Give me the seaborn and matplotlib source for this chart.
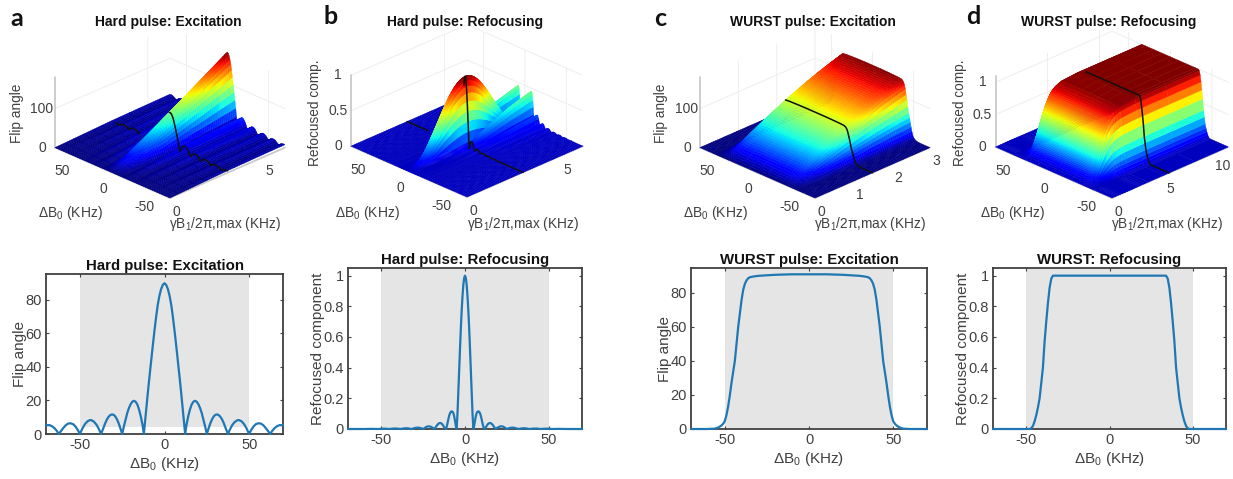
import numpy as np
import matplotlib
matplotlib.use("Agg")
import matplotlib.pyplot as plt
from mpl_toolkits.mplot3d import proj3d
import seaborn as sns

W, H = 1233, 479
sns.set_theme(style="white")
plt.rcParams.update({
    "font.family": ["Liberation Sans", "DejaVu Sans"],
    "mathtext.fontset": "custom", "mathtext.rm": "Liberation Sans",
    "mathtext.it": "Liberation Sans", "mathtext.bf": "Liberation Sans:bold",
    "mathtext.default": "regular",
    "axes3d.automargin": False,
})

# ---------- read-off line profiles: half profile (|dB0|, value), mirrored about 0
x_a = [0,1,2,3,4,5,6,7,8,9,10,11,12.2,13,14,15,16,17,18,19,20,21,22,23,24,25,26,27,28,29,30,31,32,33,34,35,36,37.5,
       38.5,40,41.5,43,44,45.5,47,48.5,50,51,52.5,54,55.5,57,58.5,60,61.5,62.5,63.5,65,66.5,68,70]
y_a = [90,89,86.5,82.5,77,69.5,61,52,42.5,33,23,12.5,0,5.5,10.5,14.5,17.5,19.2,19.8,19.3,17.8,15.5,12.5,8.5,4.5,0,
       3.2,6.2,8.6,10.4,11.4,11.7,11.3,10.3,8.7,6.5,3.8,0,2.4,5.3,7.2,8.2,8.3,7.6,5.9,3.3,0,2,4.4,5.9,6.4,6.2,5.1,3.3,1.3,0,1.7,3.5,4.7,5.3,5.2]
x_b = [0,.5,1,1.5,2,2.5,3,3.5,4,4.5,5,5.5,6,6.5,7,7.5,8,8.5,9,9.5,10,10.5,11,11.5,12.5,13.5,14.5,15.5,16.5,17.5,18.3,
       19.5,21,22.5,24,25,26.5,28,29.5,31,32,34,35.5,37,38.5,41,43,45,48,50,52,56,60,70]
y_b = [1,.985,.94,.865,.77,.655,.52,.38,.24,.1,0,.022,.055,.085,.105,.113,.115,.112,.102,.085,.062,.036,.013,0,
       .012,.03,.039,.038,.028,.012,0,.009,.017,.017,.008,0,.006,.009,.008,.003,0,.004,.005,.003,0,.003,.003,0,.002,.002,0,.001,0,0]
x_c = [0,10,20,30,33,35,36,37,38,39,40,41,42,43,44,45,46,47,48,49,50,51,52,54,56,60,70]
y_c = [91,91,90.7,90.1,89.7,89.3,88.7,87.5,85.5,82,76,68,60,50,40,33.5,27,19.5,13,8,4.5,3,2,.8,.2,0,0]
x_d = [0,10,20,30,34,35,36,37,38,39,40,41,42,43,44,45,46,47,48,70]
y_d = [1,1,1,1,1,.98,.92,.82,.7,.57,.4,.3,.2,.14,.09,.05,.02,.005,0,0]

# ---------- read-off dependence on the B1 amplitude
b1_a = [0,.1,.2,.3,.4,.5,.6,.7,.8,.9,1,1.1,1.2,1.3,1.4,1.5,1.6,1.7,1.8,1.9,2,2.1,2.2,2.3,2.4,2.5,2.6,2.7,2.8,2.9,3,
        3.1,3.2,3.3,3.4,3.5,3.6,3.7,3.8,3.9,4,4.1,4.2,4.3,4.4,4.5,4.6,4.7,4.8,4.9,5,5.1,5.2,5.3,5.4,5.5,5.6,5.7,5.8,5.9,6,6.1,6.2]
peak_a = [0,2.9,5.8,8.7,11.6,14.5,17.4,20.3,23.2,26.1,29,31.9,34.8,37.7,40.6,43.5,46.4,49.3,52.2,55.1,58,60.9,63.8,66.7,69.6,72.5,75.4,78.3,81.2,84.1,87,
          89.9,92.8,95.7,98.6,101.5,104.4,107.3,110.2,113.1,116,118.9,121.8,124.7,127.6,130.5,133.4,136.3,139.2,142.1,145,147.9,150.8,153.7,156.6,159.5,162.4,165.3,168.2,171.1,174,176.9,179.8]
b1_lobe_a = [0,.5,1,1.5,2,2.5,3,3.5,4,4.5,5,5.5,6,6.2]
lobe_a = [0,.17,.33,.5,.67,.83,1,1.08,1.15,1.23,1.3,1.37,1.44,1.45]

b1_b = [0,.05,.1,.15,.2,.25,.3,.35,.4,.45,.5,.55,.6,.65,.7,.75,.8,.85,.9,.95,1,1.05,1.1,1.15,1.2,1.25,1.3,1.35,1.4,1.45,1.5,
        1.55,1.6,1.65,1.7,1.75,1.8,1.85,1.9,1.95,2,2.05,2.1,2.15,2.2,2.25,2.3,2.35,2.4,2.45,2.5,2.55,2.6,2.65,2.7,2.75,2.8,2.85,2.9,2.95,3]
peak_b = [0,.001,.003,.006,.011,.017,.025,.033,.043,.055,.067,.081,.096,.111,.128,.146,.165,.185,.206,.228,.25,.273,.297,.321,.346,.371,.396,.422,.448,.474,.5,
          .526,.552,.578,.604,.629,.655,.679,.703,.727,.75,.772,.794,.815,.835,.854,.872,.889,.905,.919,.933,.946,.957,.967,.976,.983,.989,.994,.997,.999,1]
b1_lobe_b = [0,.1,.2,.3,.4,.5,.6,.7,.8,.9,1,1.1,1.2,1.3,1.4,1.5,1.6,1.7,1.8,1.9,2,2.1,2.2,2.3,2.4,2.5,2.6,2.7,2.8,2.9,3,
             3.1,3.2,3.3,3.4,3.5,3.6,3.7,3.8,3.9,4,4.1,4.2,4.3,4.4,4.5,4.6,4.7,4.8,4.9,5,5.1,5.2,5.3,5.4,5.5,5.6,5.7,5.8,5.9,6,6.1,6.2]
lobe_b = [0,0,0,.01,.01,.02,.02,.03,.03,.04,.04,.05,.06,.07,.09,.11,.13,.16,.19,.22,.25,.31,.37,.43,.5,.57,.64,.72,.81,.9,1,
          1.12,1.24,1.36,1.48,1.6,1.72,1.84,1.96,2.08,2.2,2.3,2.4,2.5,2.6,2.7,2.8,2.9,3,3.1,3.2,3.27,3.34,3.41,3.48,3.55,3.62,3.69,3.76,3.83,3.9,3.95,4]

b1_c = [0,.05,.1,.15,.2,.25,.3,.35,.4,.45,.5,.55,.6,.65,.7,.75,.8,.85,.9,.95,1,1.05,1.1,1.15,1.2,1.25,1.3,1.35,1.4,1.45,1.5,
        1.55,1.6,1.65,1.7,1.75,1.8,1.85,1.9,1.95,2,2.05,2.1,2.15,2.2,2.25,2.3,2.35,2.4,2.45,2.5,2.55,2.6,2.65,2.7,2.75,2.8,2.85,2.9,2.95,3]
peak_c = [0,3.4,6.8,10.1,13.4,16.7,19.9,23.1,26.3,29.4,32.5,35.6,38.7,41.7,44.7,47.6,50.5,53.4,56.3,59.1,61.9,64.6,67.3,70,72.7,75.3,77.9,80.5,83,85.5,88,
          90.4,92.8,95.2,97.5,99.8,102.1,104.3,106.5,108.7,110.8,113,115,117,119,121,123,125,127,128.7,130.5,132.2,134,135.7,137.4,139,140.7,142.3,143.8,145.4,147]

peak_d = [0,.02,.04,.06,.08,.1,.12,.14,.16,.18,.2,.22,.24,.26,.28,.3,.32,.34,.36,.38,.4,.42,.44,.46,.48,.5,.52,.54,.56,.58,.6,.62,.64,.66,.68,.7,.72,.74,.76,.78,.8,.82,.84,.86,.88,.9,.92,.94,.96,.98,1,1,1]
b1_d = [0,.35,.5,.62,.72,.8,.86,.92,.97,1.03,1.08,1.12,1.16,1.19,1.23,1.25,1.28,1.31,1.34,1.38,1.41,1.44,1.47,1.5,1.54,1.57,1.61,1.64,1.68,1.71,1.75,1.79,1.83,1.875,1.92,1.96,2,2.06,2.11,2.17,2.22,2.29,2.36,2.43,2.5,2.62,2.75,2.92,3.17,3.5,5,8,11.2]

titles_top = ["Hard pulse: Excitation", "Hard pulse: Refocusing", "WURST pulse: Excitation", "WURST pulse: Refocusing"]
titles_bot = ["Hard pulse: Excitation", "Hard pulse: Refocusing", "WURST pulse: Excitation", "WURST: Refocusing"]
z_labels = ["Flip angle", "Refocused comp.", "Flip angle", "Refocused comp."]
y_labels = ["Flip angle", "Refocused component", "Flip angle", "Refocused component"]
letters = ["a", "b", "c", "d"]
LINE_BLUE = "#1f77b4"
TXT = "#404040"

def mirror(x, y):
    return (np.array([-v for v in x[:0:-1]] + list(x), float),
            np.array(list(y[:0:-1]) + list(y), float))

profiles = [mirror(x_a, y_a), mirror(x_b, y_b), mirror(x_c, y_c), mirror(x_d, y_d)]
jet = plt.get_cmap("jet")
fig = plt.figure(figsize=(W / 100, H / 100), dpi=100, facecolor="white")

def fx(p): return p / W
def fy(p): return 1 - p / H

# ---------- bottom row
boxes = [(46, 283, 274, 434), (348, 582, 268, 429), (691, 927, 268, 429), (993, 1226, 268, 429)]
ytops = [95.5, 1.05, 94.7, 1.05]
yticks = [[0,20,40,60,80], [0,.2,.4,.6,.8,1], [0,20,40,60,80], [0,.2,.4,.6,.8,1]]
span_bottom = [4, 0, 0, 0]
for i, (l, r, t, b) in enumerate(boxes):
    ax = fig.add_axes([fx(l), fy(b), (r - l) / W, (b - t) / H], facecolor="white")
    ax.set_xlim(-70, 70); ax.set_ylim(0, ytops[i])
    ax.axvspan(-50, 50, ymin=span_bottom[i] / ytops[i], ymax=1, color="#e5e5e5", lw=0, zorder=0)
    x, y = profiles[i]
    sns.lineplot(x=x, y=y, ax=ax, color=LINE_BLUE, lw=1.6, sort=False, errorbar=None, estimator=None, zorder=3, clip_on=False)
    ax.set_xticks([-50, 0, 50]); ax.set_xticklabels(["-50", "0", "50"])
    ax.set_yticks(yticks[i]); ax.set_yticklabels([f"{v:g}" for v in yticks[i]])
    ax.tick_params(direction="in", length=2.5, width=0.8, color=TXT, labelcolor=TXT, labelsize=10.5,
                   top=True, right=True, bottom=True, left=True, pad=3)
    for s in ax.spines.values():
        s.set_color(TXT); s.set_linewidth(1.3); s.set_visible(True)
    ax.set_xlabel(r"$\Delta$B$_0$ (KHz)", fontsize=11, color=TXT, labelpad=2)
    ax.set_ylabel(y_labels[i], fontsize=11, color=TXT, labelpad=-1)
    ax.set_title(titles_bot[i], fontsize=10.8, fontweight="bold", color="#111111", pad=3)

# ---------- top row
db_a, z_a = profiles[0]
db_b, z_b = profiles[1]
db_c, z_c = profiles[2]
db_d, z_d = profiles[3]

def split_surface(db, z, edge, scale, b1_peak, peak, b1_lobe, lobe):
    """far flank, central lobe, near flank, each as (b1 rows, dB0 columns, heights)"""
    far = db >= edge; mid = np.abs(db) <= edge; near = db <= -edge
    return [(b1_lobe, db[far], np.outer(z[far], lobe)),
            (b1_peak, db[mid], np.outer(z[mid] / scale, peak)),
            (b1_lobe, db[near], np.outer(z[near], lobe))]

parts_a = split_surface(db_a, z_a, 12.2, 90, b1_a, peak_a, b1_lobe_a, lobe_a)
parts_b = split_surface(db_b, z_b, 5, 1, list(b1_b) + [6 - v for v in b1_b[-2::-1]], list(peak_b) + list(peak_b[-2::-1]), b1_lobe_b, lobe_b)
parts_c = [(b1_c, db_c, np.outer(z_c / 91, peak_c))]
parts_d = [(b1_d, db_d, np.outer(z_d, peak_d))]

panels = [
    dict(parts=parts_a, db=db_a, line=z_a, cut=3.1, xmax=6.2, zmax=180, zt=[0,100], xt=[0,5], vmin=0, vmax=180, hide=(2,37), vis=65, L=53, R=283, F=(170,198)),
    dict(parts=parts_b, db=db_b, line=z_b, cut=3, xmax=6.2, zmax=1, zt=[0,.5,1], xt=[0,5], vmin=-.06, vmax=1, hide=(2,43), vis=70, L=350, R=582, F=(467,197)),
    dict(parts=parts_c, db=db_c, line=z_c, cut=1.5, xmax=3, zmax=180, zt=[0,100], xt=[0,1,2,3], vmin=0, vmax=147, hide=(37,70), vis=70, L=698, R=928, F=(815,198)),
    dict(parts=parts_d, db=db_d, line=z_d, cut=5.5, xmax=11.2, zmax=1.1, zt=[0,.5,1], xt=[0,5,10], vmin=-.06, vmax=1, hide=(33,70), vis=70, L=993, R=1226, F=(1112,198)),
]
title_px = [(168,4),(465,4),(813,4),(1109,4)]
letter_px = [(17,18),(331,17),(660,18),(973,17)]
zlab_px = [(17,113),(315,113),(661,113),(960,113)]
ylab_px = [(70,213),(367,213),(715,213),(1012,213)]
xlab_px = [(225,224),(523,224),(870,224),(1167,224)]

for i, p in enumerate(panels):
    ax = fig.add_axes([0.1, 0.1, 300 / W, 300 / H], projection="3d", computed_zorder=False)
    ax.patch.set_alpha(0)
    ax.set_proj_type("ortho")
    ax.view_init(elev=26, azim=-135)
    ax.set_box_aspect((1, 1, 0.48))
    ax.set_xlim(0, p["xmax"], view_margin=0)
    ax.set_ylim(-70, 70, view_margin=0)
    ax.set_zlim(0, p["zmax"], view_margin=0)
    for b1, db, Z in p["parts"]:
        X, Y = np.meshgrid(b1, db)
        s = ax.plot_surface(X, Y, Z, cmap=jet, vmin=p["vmin"], vmax=p["vmax"], rstride=1, cstride=1,
                            linewidth=0.3, antialiased=True, shade=False, zorder=1)
        s.set_edgecolor("face")
    mask = ((p["db"] >= p["hide"][0]) & (p["db"] <= p["hide"][1])) | (p["db"] > p["vis"])
    ln = np.where(mask, np.nan, p["line"])
    ax.plot(np.full_like(p["db"], p["cut"]), p["db"], ln, color="#111111", lw=1.1, zorder=5)

    ax.set_xticks(p["xt"]); ax.set_yticks([-50, 0, 50]); ax.set_zticks(p["zt"])
    ax.set_xticklabels([f"{v:g}" for v in p["xt"]])
    ax.set_yticklabels(["-50", "0", "50"])
    ax.set_zticklabels([f"{v:g}" for v in p["zt"]])
    ax.tick_params(colors=TXT, labelsize=10, pad=-3)
    ax.yaxis.set_tick_params(pad=-1)
    plt.setp(ax.get_zticklabels(), va="center")
    for a in (ax.xaxis, ax.yaxis, ax.zaxis):
        a.set_pane_color((1, 1, 1, 0))
        a.pane.set_edgecolor((1, 1, 1, 0))
        a.line.set_color("#c8c8c8")
        a._axinfo["grid"]["color"] = "#eeeeee"
        a._axinfo["grid"]["linewidth"] = 0.7
        a._axinfo["tick"]["inward_factor"] = 0.0
        a._axinfo["tick"]["outward_factor"] = 0.0
    ax.zaxis.set_ticks_position("upper")

    # scale and move the 3-D box so that its floor corners sit where the reference has them
    fig.canvas.draw()
    M = ax.get_proj()
    def disp(px, py, pz):
        a, b, _ = proj3d.proj_transform(px, py, pz, M)
        return ax.transData.transform((a, b))
    lft = disp(0, 70, 0); rgt = disp(p["xmax"], -70, 0); frt = disp(0, -70, 0)
    k = (p["R"] - p["L"]) / (rgt[0] - lft[0])
    x0, y0 = 0.1 * W, 0.1 * H
    side = 300 * k
    nx = p["F"][0] - k * (frt[0] - x0)
    ny = (H - p["F"][1]) - k * (frt[1] - y0)
    ax.set_position([nx / W, ny / H, side / W, side / H])

    t = ax.set_title(titles_top[i], fontsize=10, fontweight="bold", color="#111111", va="center", ha="center",
                     y=(H - title_px[i][1] - ny) / side, pad=0)
    t.set_x((title_px[i][0] - nx) / side)
    fig.text(fx(letter_px[i][0]), fy(letter_px[i][1]), letters[i], fontsize=18, fontweight="bold",
             family="Lato", color="#111111", ha="center", va="center")
    ax.text2D(fx(zlab_px[i][0]), fy(zlab_px[i][1]), z_labels[i], rotation=90, fontsize=9.8, color=TXT,
              ha="center", va="center", transform=fig.transFigure)
    ax.text2D(fx(ylab_px[i][0]), fy(ylab_px[i][1]), r"$\Delta$B$_0$ (KHz)", fontsize=10, color=TXT,
              ha="center", va="center", transform=fig.transFigure)
    ax.text2D(fx(xlab_px[i][0]), fy(xlab_px[i][1]), r"$\gamma$B$_1$/2$\pi$,max (KHz)", fontsize=9.8, color=TXT,
              ha="center", va="center", transform=fig.transFigure)

fig.savefig("out.png", dpi=100, facecolor="white")
